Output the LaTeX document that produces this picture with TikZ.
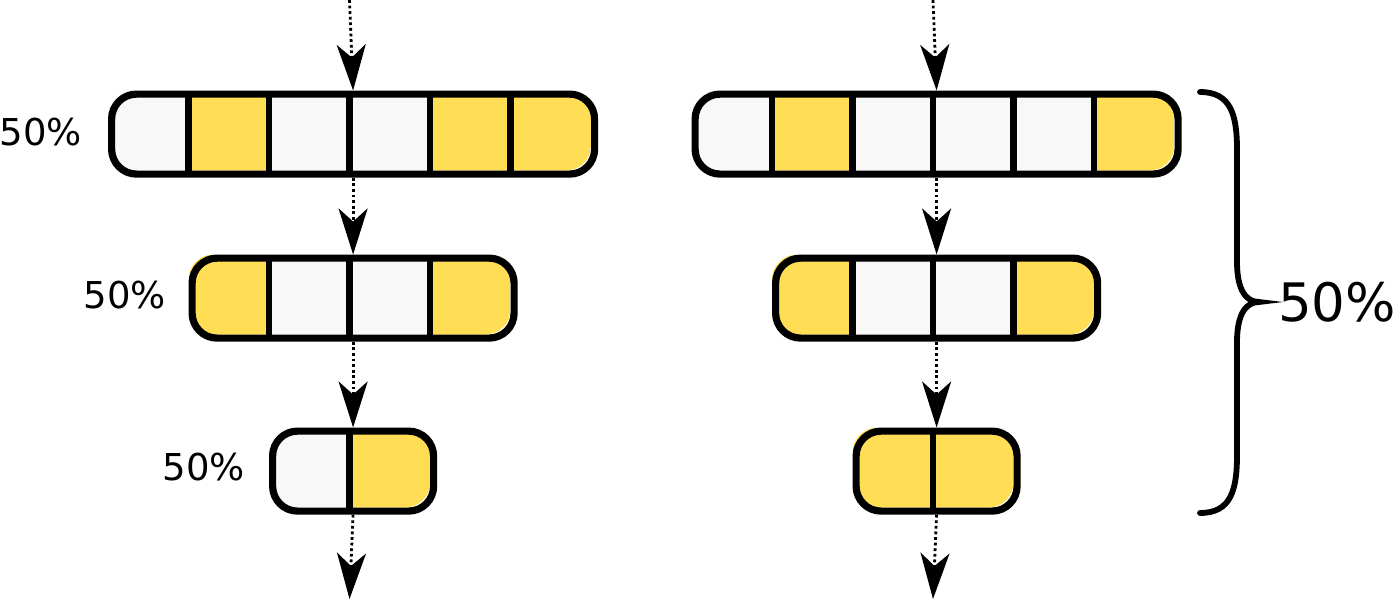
\documentclass[tikz,border=0pt]{standalone}
\usepackage{fontspec}
\setmainfont{DejaVu Sans}
\usetikzlibrary{arrows.meta}
\definecolor{cellw}{HTML}{F8F8F8}
\definecolor{celly}{HTML}{FFDD55}
\tikzset{
  barbox/.style={draw=black, line width=7.2, rounded corners=25, inner sep=0, outer sep=3.6, anchor=north west},
  divider/.style={draw=black, line width=6.8},
  flow/.style={line width=2.8, dash pattern=on 2.8 off 2.8, -{Stealth[length=46, width=29, inset=13]}},
  lbl/.style={font=\fontsize{37}{44}\selectfont, inner sep=0},
  biglbl/.style={font=\fontsize{53}{64}\selectfont, inner sep=0},
  bracepath/.style={line width=5.8, line cap=round}
}
\newcommand\drawbar[5]{%
  \begin{scope}
    \clip[rounded corners=25] (#2,#3) rectangle ++(#4*80.5,80);
    \foreach \c [count=\i from 0] in {#5}
      \fill[\c] (#2+\i*80.5,#3) rectangle ++(80.5,80);
  \end{scope}
  \pgfmathtruncatemacro\nlast{#4-1}
  \foreach \i in {1,...,\nlast}
    \draw[divider] (#2+\i*80.5,#3) -- ++(0,80);
  \node[barbox, minimum width={#4*80.5}, minimum height=80] (#1) at (#2,#3) {};
}
\begin{document}
\begin{tikzpicture}[x=1pt,y=-1pt]
\useasboundingbox (0,0) rectangle (1400,600);
% left column
\drawbar{La}{108}{90.5}{6}{cellw,celly,cellw,cellw,celly,celly}
\drawbar{Lb}{188.5}{254.5}{4}{celly,cellw,cellw,celly}
\drawbar{Lc}{269}{427.5}{2}{cellw,celly}
% right column
\drawbar{Ra}{691.5}{90.5}{6}{cellw,celly,cellw,cellw,cellw,celly}
\drawbar{Rb}{772}{254.5}{4}{celly,cellw,cellw,celly}
\drawbar{Rc}{852.5}{427.5}{2}{celly,celly}
% arrows
\coordinate (Ls) at (349.5,0);
\coordinate (Le) at (349.5,599);
\coordinate (Rs) at (933,0);
\coordinate (Re) at (933,599);
\draw[flow] (Ls) -- (La.north);
\draw[flow] (La.south) -- (Lb.north);
\draw[flow] (Lb.south) -- (Lc.north);
\draw[flow] (Lc.south) -- (Le);
\draw[flow] (Rs) -- (Ra.north);
\draw[flow] (Ra.south) -- (Rb.north);
\draw[flow] (Rb.south) -- (Rc.north);
\draw[flow] (Rc.south) -- (Re);
% labels
\node[lbl] (t1) at (41,132) {50\%};
\node[lbl] (t2) at (125,295) {50\%};
\node[lbl] (t3) at (204,467) {50\%};
% brace
\draw[bracepath] (1200,92) .. controls (1231,92) and (1237,115) .. (1237,150)
  -- (1237,262) .. controls (1237,290) and (1246,302) .. (1259,302)
  .. controls (1246,302) and (1237,314) .. (1237,342)
  -- (1237,455) .. controls (1237,490) and (1231,513) .. (1200,513);
\node[biglbl] (tb) at (1337,302) {50\%};
\end{tikzpicture}
\end{document}
